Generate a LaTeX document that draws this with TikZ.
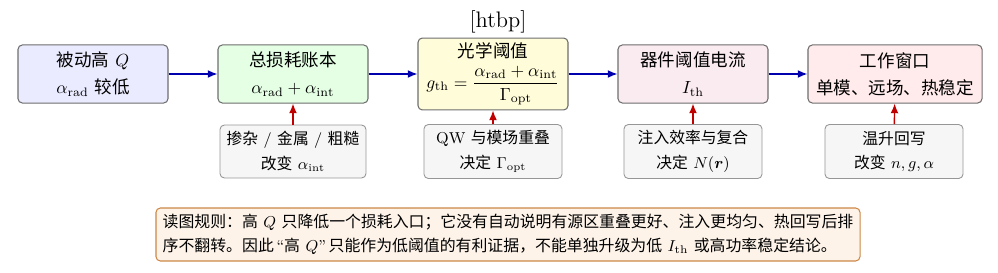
\documentclass[tikz,border=0pt]{standalone}
\usepackage{amsmath}
\usepackage{fontspec}
\newfontfamily\cjk{Noto Sans CJK SC}
\usetikzlibrary{arrows.meta}
\definecolor{boxline}{RGB}{110,110,110}
\definecolor{subline}{RGB}{150,150,150}
\definecolor{subfill}{RGB}{246,246,246}
\definecolor{notefill}{RGB}{253,243,233}
\definecolor{noteline}{RGB}{205,135,70}
\definecolor{flowc}{RGB}{0,0,175}
\definecolor{feedc}{RGB}{190,0,0}
\begin{document}
\begin{tikzpicture}[x=0.57pt,y=-0.57pt,
  box/.style={draw=boxline, rounded corners=2.5pt, line width=0.6pt, align=center,
    inner sep=0pt, minimum width=85.5pt, minimum height=33.1pt,
    font=\fontsize{10}{15.4}\selectfont},
  sub/.style={draw=subline, fill=subfill, rounded corners=2.5pt, line width=0.5pt,
    align=center, inner sep=0pt, minimum width=78.7pt, minimum height=30.8pt,
    font=\fontsize{9}{14.2}\selectfont},
  flow/.style={-{Latex[length=5.5pt,width=4.5pt]}, draw=flowc, line width=0.8pt},
  feed/.style={-{Latex[length=5.5pt,width=4.5pt]}, draw=feedc, line width=0.8pt}]
\useasboundingbox (0,0) rectangle (998,273);

\node[font=\fontsize{12.8}{15}\selectfont] (hd) at (498,22) {[htbp]};

\node[box, fill=blue!8] (b1) at (93,74) {{\cjk 被动高} $Q$\\ $\alpha_{\mathrm{rad}}$ {\cjk 较低}};
\node[box, fill=green!10] (b2) at (293,74) {{\cjk 总损耗账本}\\ $\alpha_{\mathrm{rad}}+\alpha_{\mathrm{int}}$};
\node[box, fill=yellow!15, minimum height=41pt, font=\fontsize{10}{12}\selectfont] (b3) at (493,74)
  {{\cjk 光学阈值}\\[3pt] $g_{\mathrm{th}}=\displaystyle\frac{\alpha_{\mathrm{rad}}+\alpha_{\mathrm{int}}}{\Gamma_{\mathrm{opt}}}$};
\node[box, fill=purple!8] (b4) at (693,74) {{\cjk 器件阈值电流}\\ $I_{\mathrm{th}}$};
\node[box, fill=red!8, minimum width=99.2pt] (b5) at (895,74) {{\cjk 工作窗口}\\ {\cjk 单模、远场、热稳定}};

\node[sub, minimum width=83.2pt, minimum height=30.2pt] (c2) at (293,151.5)
  {{\cjk 掺杂} / {\cjk 金属} / {\cjk 粗糙}\\ {\cjk 改变} $\alpha_{\mathrm{int}}$};
\node[sub] (c3) at (493,151.5) {QW {\cjk 与模场重叠}\\ {\cjk 决定} $\Gamma_{\mathrm{opt}}$};
\node[sub] (c4) at (693,151.5) {{\cjk 注入效率与复合}\\ {\cjk 决定} $N(\boldsymbol{r})$};
\node[sub] (c5) at (894,151.5) {{\cjk 温升回写}\\ {\cjk 改变} $n,g,\alpha$};

\draw[flow] (b1) -- (b2);
\draw[flow] (b2) -- (b3);
\draw[flow] (b3) -- (b4);
\draw[flow] (b4) -- (b5);

\draw[feed] (c2) -- (b2);
\draw[feed] (c3) -- (b3);
\draw[feed] (c4) -- (b4);
\draw[feed] (c5) -- (b5);

\node[draw=noteline, fill=notefill, rounded corners=2.5pt, line width=0.6pt, align=left,
  inner sep=0pt, minimum width=401.3pt, minimum height=30.2pt,
  font=\fontsize{9.05}{13.7}\selectfont] (nt) at (508,234.5)
  {{\cjk 读图规则：高} $Q$ {\cjk 只降低一个损耗入口；它没有自动说明有源区重叠更好、注入更均匀、热回写后排}\\
   {\cjk 序不翻转。因此}\,“{\cjk 高} $Q$”\,{\cjk 只能作为低阈值的有利证据，不能单独升级为低} $I_{\mathrm{th}}$ {\cjk 或高功率稳定结论。}};
\end{tikzpicture}
\end{document}
